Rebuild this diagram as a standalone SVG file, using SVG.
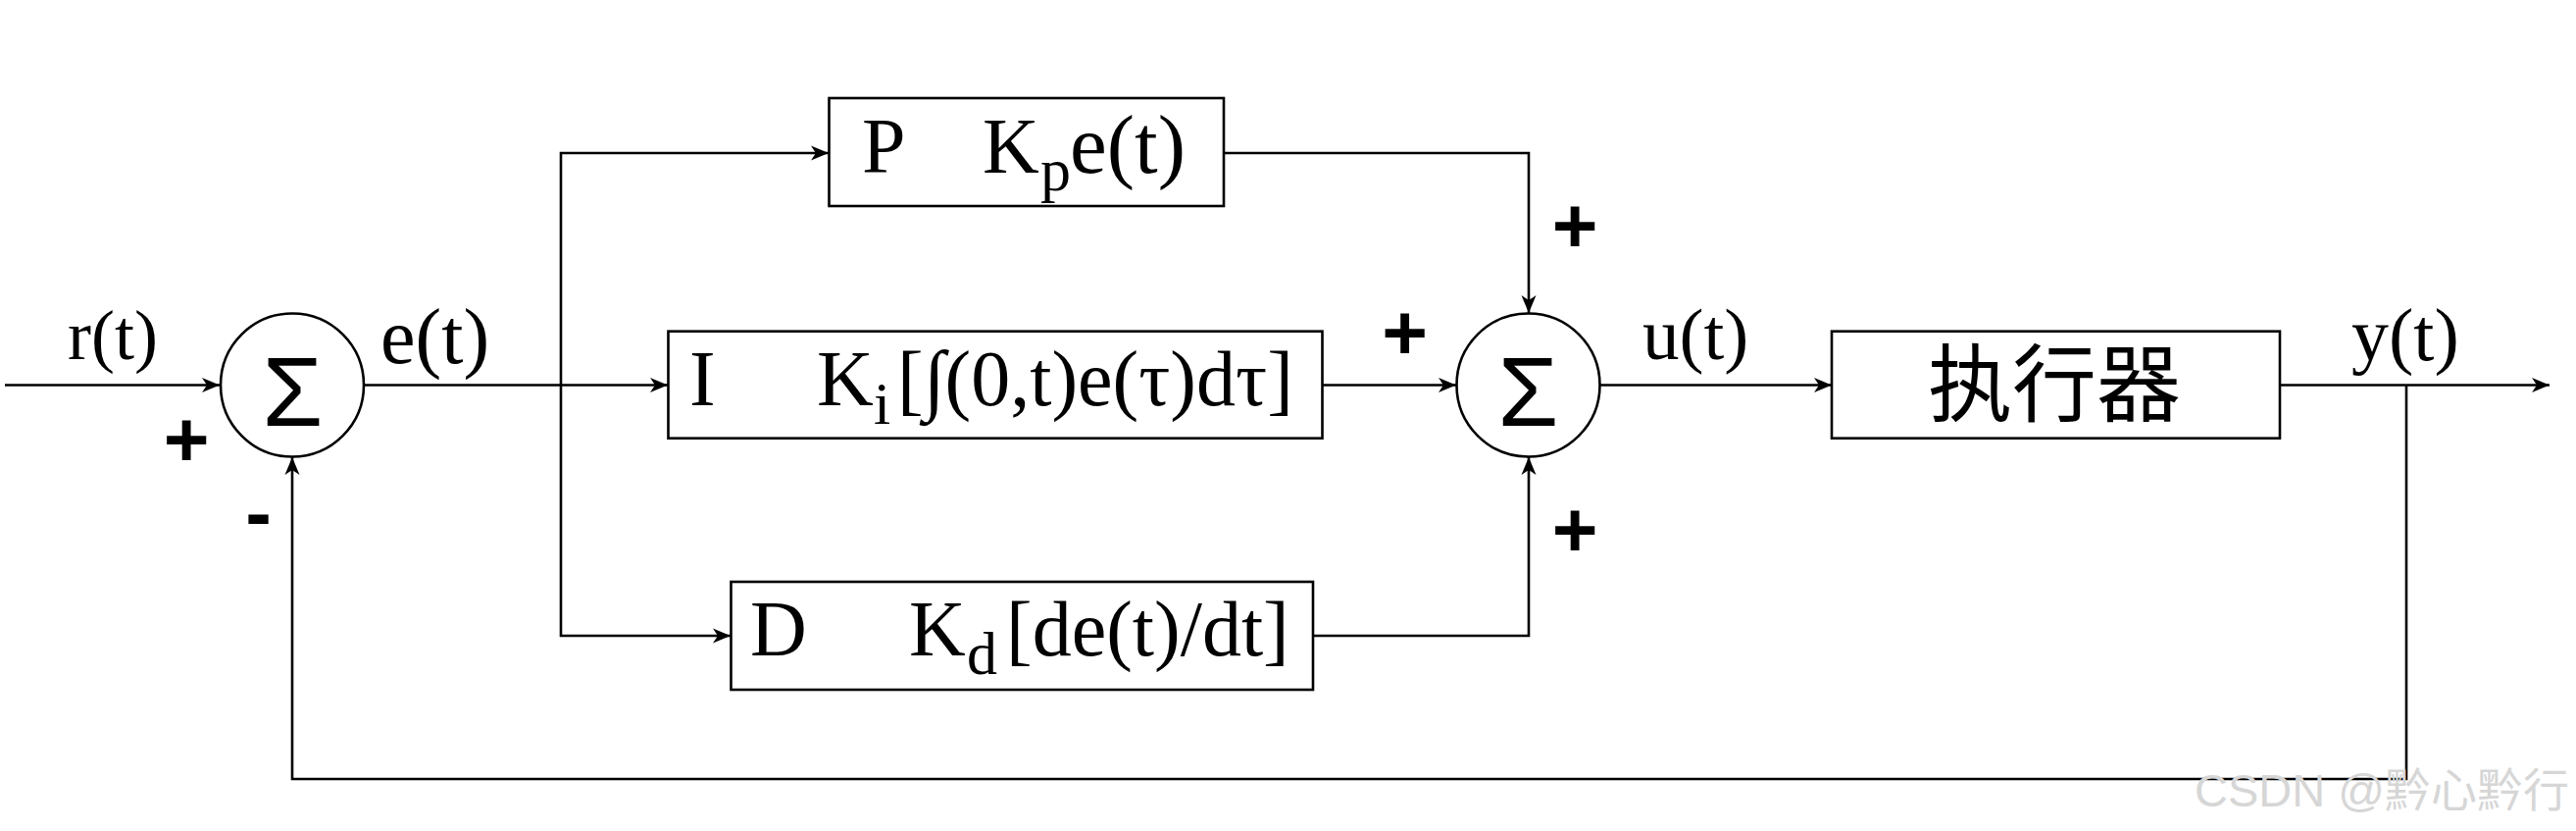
<svg xmlns="http://www.w3.org/2000/svg" width="2627" height="847" viewBox="0 0 2627 847">
<style>
.ln{fill:none;stroke:#000;stroke-width:2.6}
.bx{fill:#fff;stroke:#000;stroke-width:2.6}
.sv{font-family:"Liberation Serif","Times New Roman",serif;fill:#000}
.sg{font-family:"Liberation Sans",Arial,sans-serif;font-size:100px;fill:#000;text-anchor:middle}
.pm{font-family:"Liberation Sans",Arial,sans-serif;font-weight:bold;font-size:80px;fill:#000;text-anchor:middle}
.cj{font-family:"Noto Sans CJK SC","Noto Sans",sans-serif;font-size:86px;fill:#000;text-anchor:middle}
.wm{font-family:"Liberation Sans","Noto Sans CJK SC",sans-serif;font-size:47px;fill:#d6d6d6;text-anchor:end}
</style>
<defs>
<marker id="ar" markerUnits="userSpaceOnUse" markerWidth="20" markerHeight="18" viewBox="0 0 20 18" refX="18" refY="9" orient="auto">
<path d="M0,1.5 L18,9 L0,16.5 L5,9 Z" fill="#000"/>
</marker>
</defs>
<rect width="2627" height="847" fill="#fff"/>
<g id="connectors">
<path class="ln" d="M5,392.5 H224" marker-end="url(#ar)"/>
<path class="ln" d="M371,392.5 H681" marker-end="url(#ar)"/>
<path class="ln" d="M572,392.5 V156 H845" marker-end="url(#ar)"/>
<path class="ln" d="M572,392.5 V648 H745" marker-end="url(#ar)"/>
<path class="ln" d="M1248,156 H1559 V319" marker-end="url(#ar)"/>
<path class="ln" d="M1348.5,392.5 H1485" marker-end="url(#ar)"/>
<path class="ln" d="M1339,648 H1559 V466" marker-end="url(#ar)"/>
<path class="ln" d="M1632,392.5 H1868" marker-end="url(#ar)"/>
<path class="ln" d="M2325,392.5 H2600" marker-end="url(#ar)"/>
<path class="ln" d="M2454,392.5 V794 H298 V466" marker-end="url(#ar)"/>
</g>
<g id="sum1">
<circle class="bx" cx="298" cy="392.5" r="73"/>
<text class="sg" x="298.5" y="434">Σ</text>
</g>
<g id="sum2">
<circle class="bx" cx="1558.5" cy="392.5" r="73"/>
<text class="sg" x="1558.5" y="434">Σ</text>
</g>
<g id="boxP">
<rect class="bx" x="845.5" y="100" width="402.5" height="110"/>
<text class="sv" font-size="80" y="176"><tspan x="879">P</tspan><tspan x="1002">K</tspan><tspan x="1061" y="194" font-size="62">p</tspan><tspan x="1091" y="176" font-size="85">e(t)</tspan></text>
</g>
<g id="boxI">
<rect class="bx" x="681.5" y="337.7" width="667" height="109"/>
<text class="sv" font-size="80" y="413"><tspan x="703">I</tspan><tspan x="833">K</tspan><tspan x="891" y="432" font-size="62">i</tspan><tspan x="915" y="413">[∫(0,t)e(τ)dτ]</tspan></text>
</g>
<g id="boxD">
<rect class="bx" x="745.5" y="593" width="593.5" height="110"/>
<text class="sv" font-size="80" y="668"><tspan x="765">D</tspan><tspan x="927">K</tspan><tspan x="986" y="687" font-size="62">d</tspan><tspan x="1026" y="668">[de(t)/dt]</tspan></text>
</g>
<g id="actuator">
<rect class="bx" x="1868" y="337.7" width="457" height="109"/>
<text class="cj" x="2095" y="423">执行器</text>
</g>
<g id="labels">
<text class="sv" font-size="72" x="69" y="366">r(t)</text>
<text class="sv" font-size="80" x="388" y="370">e(t)</text>
<text class="sv" font-size="75" x="1675" y="366">u(t)</text>
<text class="sv" font-size="76" x="2398" y="367">y(t)</text>
<text class="pm" x="190" y="475">+</text>
<text class="pm" x="263.5" y="550">-</text>
<text class="pm" x="1606" y="257">+</text>
<text class="pm" x="1432.5" y="366">+</text>
<text class="pm" x="1606" y="567">+</text>
</g>
<text class="wm" x="2620" y="822">CSDN @黔心黔行</text>
</svg>
